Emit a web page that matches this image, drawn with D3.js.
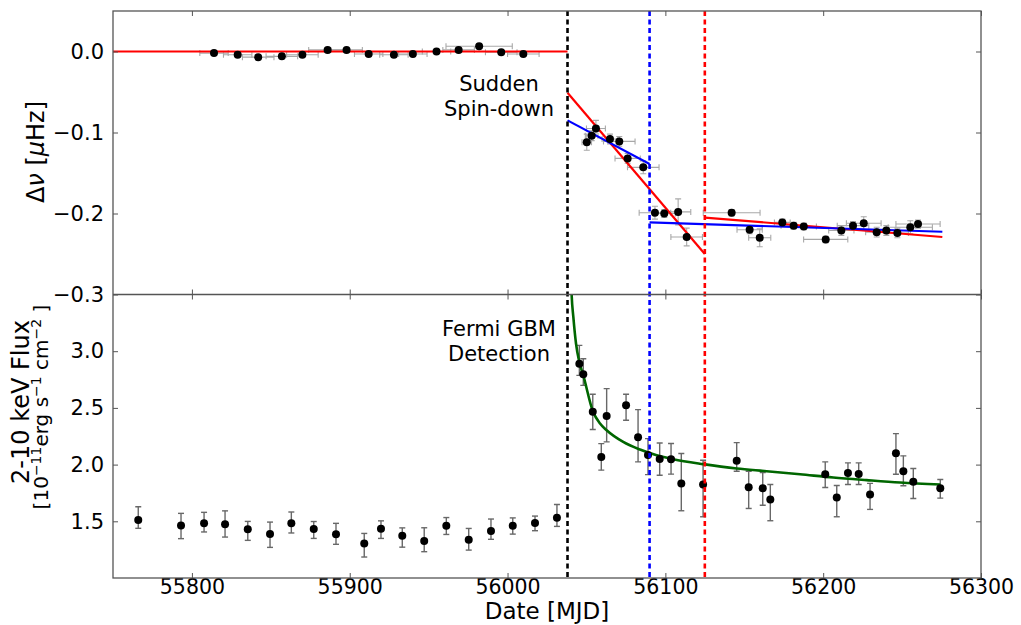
<!DOCTYPE html>
<html>
<head>
<meta charset="UTF-8" />
<title>Spin-down and flux</title>
<script src="https://cdn.jsdelivr.net/npm/d3@7"></script>
<style>
body {
	margin: 0;
	background: #fff;
}

svg text {
	font-family: "DejaVu Sans", sans-serif;
	fill: #000;
}
</style>
</head>
<body>
<svg id="chart" width="1021" height="625"></svg>
<script>
// ---- timing residuals (top panel) ----
var nuMjd = [55814, 55829, 55842, 55857, 55870, 55886, 55898, 55912, 55928, 55940, 55955, 55969, 55982, 55996, 56010,
             56050.2, 56053.3, 56056.0, 56064.9, 56070.8, 56076.1, 56086.0, 56093.4, 56099.3, 56108.1, 56113.5, 56142.0,
             56153.4, 56159.8, 56174.1, 56181.3, 56187.7, 56201.6, 56211.5, 56218.9, 56225.7, 56233.9, 56240.0, 56247.0, 56255.2, 56260.1];
var nuVal = [-0.002, -0.004, -0.007, -0.006, -0.004, 0.002, 0.002, -0.003, -0.004, -0.003, 0.000, 0.002, 0.0065, -0.001, -0.003,
             -0.112, -0.104, -0.095, -0.108, -0.111, -0.132, -0.143, -0.199, -0.200, -0.198, -0.229, -0.199,
             -0.220, -0.230, -0.211, -0.215, -0.216, -0.232, -0.221, -0.215, -0.212, -0.223, -0.221, -0.224, -0.217, -0.213];
var nuXerr = [9, 9, 10, 10, 10, 12, 10, 9, 9, 9, 9, 10, 21, 10, 10,
              3, 4, 6, 5, 10, 8, 10, 10, 7, 8, 10, 18,
              8, 7, 5, 8, 8, 14, 8, 10, 11, 7, 6, 7, 14, 14];
var nuYerr = [0.002, 0.002, 0.002, 0.002, 0.002, 0.002, 0.002, 0.002, 0.002, 0.002, 0.002, 0.002, 0.002, 0.002, 0.002,
              0.010, 0.006, 0.010, 0.006, 0.006, 0.006, 0.008, 0.008, 0.005, 0.016, 0.011, 0.004,
              0.005, 0.011, 0.004, 0.004, 0.004, 0.004, 0.006, 0.005, 0.008, 0.006, 0.006, 0.006, 0.008, 0.005];

// fitted timing models, one segment per entry
var redFitMjd = [[55750, 56038], [56038, 56125], [56125, 56275.5]];
var redFitVal = [[0, 0], [-0.051, -0.250], [-0.205, -0.229]];
var blueFitMjd = [[56038, 56090], [56090, 56275.5]];
var blueFitVal = [[-0.085, -0.139], [-0.211, -0.2225]];

// ---- 2-10 keV flux (bottom panel) ----
var fluxMjd = [55766.0, 55793.1, 55807.7, 55821.0, 55835.4, 55849.5, 55863.0, 55877.2, 55891.3, 55909.2, 55919.8, 55933.3, 55947.2, 55961.2, 55975.4, 55989.5, 56003.3, 56017.4, 56031.3,
               56045.5, 56048.0, 56054.0, 56059.4, 56062.8, 56075.1, 56082.7, 56089.0, 56096.4, 56103.6, 56110.1, 56123.9,
               56145.2, 56152.8, 56161.7, 56166.5, 56201.3, 56208.6, 56215.7, 56222.5, 56229.7, 56246.1, 56250.8, 56257.1, 56274.2];
var fluxVal = [1.511, 1.464, 1.482, 1.475, 1.429, 1.387, 1.482, 1.431, 1.385, 1.305, 1.434, 1.372, 1.326, 1.460, 1.337, 1.414, 1.460, 1.484, 1.531,
               2.890, 2.796, 2.467, 2.068, 2.429, 2.523, 2.241, 2.085, 2.050, 2.048, 1.834, 1.825,
               2.033, 1.801, 1.792, 1.693, 1.915, 1.710, 1.927, 1.918, 1.737, 2.100, 1.942, 1.848, 1.792];
var fluxErrHi = [0.117, 0.106, 0.097, 0.117, 0.070, 0.106, 0.100, 0.067, 0.097, 0.088, 0.070, 0.070, 0.117, 0.073, 0.100, 0.106, 0.070, 0.062, 0.117,
                 0.161, 0.138, 0.153, 0.117, 0.241, 0.097, 0.244, 0.144, 0.141, 0.138, 0.264, 0.214,
                 0.161, 0.141, 0.138, 0.132, 0.109, 0.106, 0.088, 0.097, 0.097, 0.173, 0.135, 0.117, 0.076];
var fluxErrLo = [0.073, 0.117, 0.076, 0.114, 0.097, 0.117, 0.085, 0.082, 0.088, 0.120, 0.085, 0.100, 0.094, 0.076, 0.091, 0.073, 0.073, 0.067, 0.076,
                 0.103, 0.097, 0.158, 0.117, 0.229, 0.132, 0.217, 0.173, 0.144, 0.132, 0.241, 0.285,
                 0.091, 0.188, 0.150, 0.188, 0.117, 0.170, 0.103, 0.094, 0.132, 0.185, 0.129, 0.147, 0.088];

// flux decay fit
var decayMjd = [56040.2, 56040.6, 56041.7, 56043.4, 56045.5, 56048.0, 56054.0, 56058.6, 56062.8, 56073.3, 56083.9, 56094.5, 56105.0, 56124.0,
                56145.2, 56164.2, 56185.3, 56206.4, 56227.5, 56248.7, 56274.2];
var decayVal = [3.65, 3.50, 3.30, 3.066, 2.904, 2.787, 2.473, 2.362, 2.303, 2.200, 2.133, 2.083, 2.048, 2.004,
                1.965, 1.942, 1.915, 1.886, 1.863, 1.842, 1.825];

// event epochs: GBM detection, and the two candidate break times
var eventMjd = [56038, 56090, 56125];
var eventColor = ['#000000', '#0000ff', '#ff0000'];

var xTicks = [55800, 55900, 56000, 56100, 56200, 56300];
var nuTicks = [0.0, -0.1, -0.2, -0.3];
var fluxTicks = [1.5, 2.0, 2.5, 3.0];

// ---- layout ----
var L = 113, R = 981, T = 11, M = 294.5, B = 578;

var svg = d3.select('#chart');

var x = d3.scaleLinear().domain([55750, 56300]).range([L, R]);
var yTop = d3.scaleLinear().domain([-0.3, 0.05]).range([M, T]);
var yBot = d3.scaleLinear().domain([1.0, 3.5]).range([B, M]);

var defs = svg.append('defs');
defs.append('clipPath').attr('id', 'clipTop')
    .append('rect').attr('x', L).attr('y', T).attr('width', R - L).attr('height', M - T);
defs.append('clipPath').attr('id', 'clipBot')
    .append('rect').attr('x', L).attr('y', M).attr('width', R - L).attr('height', B - M);

var nuData = nuMjd.map(function(m, i) {
    return {x: m, y: nuVal[i], xe: nuXerr[i], lo: nuYerr[i], hi: nuYerr[i]};
});
var fluxData = fluxMjd.map(function(m, i) {
    return {x: m, y: fluxVal[i], xe: 0, lo: fluxErrLo[i], hi: fluxErrHi[i]};
});

function drawErrors(g, data, ys, color, width) {
    var eb = g.append('g')
        .attr('stroke', color)
        .attr('stroke-width', width)
        .attr('fill', 'none');
    var cap = 3;
    data.forEach(function(d) {
        var cx = x(d.x), cy = ys(d.y);
        if (d.xe) {
            var x0 = x(d.x - d.xe), x1 = x(d.x + d.xe);
            eb.append('line').attr('x1', x0).attr('x2', x1).attr('y1', cy).attr('y2', cy);
            eb.append('line').attr('x1', x0).attr('x2', x0).attr('y1', cy - cap).attr('y2', cy + cap);
            eb.append('line').attr('x1', x1).attr('x2', x1).attr('y1', cy - cap).attr('y2', cy + cap);
        }
        var y0 = ys(d.y - d.lo), y1 = ys(d.y + d.hi);
        eb.append('line').attr('x1', cx).attr('x2', cx).attr('y1', y0).attr('y2', y1);
        eb.append('line').attr('x1', cx - cap).attr('x2', cx + cap).attr('y1', y0).attr('y2', y0);
        eb.append('line').attr('x1', cx - cap).attr('x2', cx + cap).attr('y1', y1).attr('y2', y1);
    });
}

function drawDots(g, data, ys) {
    g.append('g').selectAll('circle')
        .data(data)
        .enter()
        .append('circle')
        .attr('cx', function(d) { return x(d.x); })
        .attr('cy', function(d) { return ys(d.y); })
        .attr('r', 4)
        .attr('fill', '#000');
}

// ---- top panel ----
var topPanel = svg.append('g').attr('clip-path', 'url(#clipTop)');
drawErrors(topPanel, nuData, yTop, '#a8a8a8', 1.1);

var segLine = d3.line()
    .x(function(d) { return x(d[0]); })
    .y(function(d) { return yTop(d[1]); });

redFitMjd.forEach(function(seg, i) {
    topPanel.append('path')
        .datum(d3.zip(seg, redFitVal[i]))
        .attr('d', segLine)
        .attr('fill', 'none')
        .attr('stroke', '#ff0000')
        .attr('stroke-width', 2.2);
});
blueFitMjd.forEach(function(seg, i) {
    topPanel.append('path')
        .datum(d3.zip(seg, blueFitVal[i]))
        .attr('d', segLine)
        .attr('fill', 'none')
        .attr('stroke', '#0000ff')
        .attr('stroke-width', 2.2);
});

// ---- bottom panel ----
var botPanel = svg.append('g').attr('clip-path', 'url(#clipBot)');
drawErrors(botPanel, fluxData, yBot, '#686868', 1.4);

var decayLine = d3.line()
    .x(function(d) { return x(d[0]); })
    .y(function(d) { return yBot(d[1]); })
    .curve(d3.curveMonotoneX);

botPanel.append('path')
    .datum(d3.zip(decayMjd, decayVal))
    .attr('d', decayLine)
    .attr('fill', 'none')
    .attr('stroke', '#006600')
    .attr('stroke-width', 2.6);

// event lines across both panels
svg.append('g').selectAll('line')
    .data(eventMjd)
    .enter()
    .append('line')
    .attr('x1', function(d) { return x(d); })
    .attr('x2', function(d) { return x(d); })
    .attr('y1', T)
    .attr('y2', B)
    .attr('stroke', function(d, i) { return eventColor[i]; })
    .attr('stroke-width', 2.6)
    .attr('stroke-dasharray', '5,3.5');

drawDots(topPanel, nuData, yTop);
drawDots(botPanel, fluxData, yBot);

// ---- axes (matplotlib style: ticks inward on all sides) ----
var tickLen = 5;
var frameColor = '#555';

function styleAxis(g) {
    g.select('.domain').remove();
    g.selectAll('.tick line').attr('stroke', frameColor).attr('stroke-width', 1);
    g.selectAll('.tick text').style('font-size', '21px').attr('fill', '#000');
}

svg.append('g')
    .attr('transform', 'translate(' + L + ',0)')
    .call(d3.axisLeft(yTop).tickValues(nuTicks).tickFormat(d3.format('.1f'))
        .tickSize(-tickLen).tickPadding(9))
    .call(styleAxis);
svg.append('g')
    .attr('transform', 'translate(' + R + ',0)')
    .call(d3.axisRight(yTop).tickValues(nuTicks).tickFormat('').tickSize(-tickLen))
    .call(styleAxis);
svg.append('g')
    .attr('transform', 'translate(' + L + ',0)')
    .call(d3.axisLeft(yBot).tickValues(fluxTicks).tickFormat(d3.format('.1f'))
        .tickSize(-tickLen).tickPadding(9))
    .call(styleAxis);
svg.append('g')
    .attr('transform', 'translate(' + R + ',0)')
    .call(d3.axisRight(yBot).tickValues(fluxTicks).tickFormat('').tickSize(-tickLen))
    .call(styleAxis);

svg.append('g')
    .attr('transform', 'translate(0,' + T + ')')
    .call(d3.axisTop(x).tickValues(xTicks).tickFormat('').tickSize(-tickLen))
    .call(styleAxis);
svg.append('g')
    .attr('transform', 'translate(0,' + M + ')')
    .call(d3.axisBottom(x).tickValues(xTicks).tickFormat('').tickSize(-tickLen))
    .call(styleAxis);
svg.append('g')
    .attr('transform', 'translate(0,' + M + ')')
    .call(d3.axisTop(x).tickValues(xTicks).tickFormat('').tickSize(-tickLen))
    .call(styleAxis);
var xAxisG = svg.append('g')
    .attr('transform', 'translate(0,' + B + ')')
    .call(d3.axisBottom(x).tickValues(xTicks).tickFormat(d3.format('d'))
        .tickSize(-tickLen).tickPadding(1))
    .call(styleAxis);
xAxisG.selectAll('.tick text').style('font-size', '20.5px');

// frames
svg.append('rect')
    .attr('x', L).attr('y', T)
    .attr('width', R - L).attr('height', B - T)
    .attr('fill', 'none')
    .attr('stroke', frameColor)
    .attr('stroke-width', 1.3);
svg.append('line')
    .attr('x1', L).attr('x2', R)
    .attr('y1', M).attr('y2', M)
    .attr('stroke', frameColor)
    .attr('stroke-width', 1.3);

// ---- labels ----
svg.append('text')
    .attr('x', (L + R) / 2)
    .attr('y', 619)
    .attr('text-anchor', 'middle')
    .style('font-size', '23px')
    .text('Date [MJD]');

var yl1 = svg.append('text')
    .attr('transform', 'translate(44,152) rotate(-90)')
    .attr('text-anchor', 'middle')
    .style('font-size', '24px');
yl1.append('tspan').text('\u0394');
yl1.append('tspan').style('font-style', 'italic').text('\u03bd');
yl1.append('tspan').text(' [');
yl1.append('tspan').style('font-style', 'italic').text('\u03bc');
yl1.append('tspan').text('Hz]');

// two-line flux label, kept in one text block
var yl2 = svg.append('text')
    .attr('transform', 'translate(0,404) rotate(-90)')
    .attr('text-anchor', 'middle');
yl2.append('tspan')
    .attr('x', 2).attr('y', 28.5)
    .style('font-size', '24px')
    .text('2-10 keV Flux');
var l2 = yl2.append('tspan')
    .attr('x', -3).attr('y', 48)
    .style('font-size', '20px');
l2.append('tspan').text('[10');
l2.append('tspan').attr('dy', -7).style('font-size', '14px').text('\u221211');
l2.append('tspan').attr('dy', 7).text('erg s');
l2.append('tspan').attr('dy', -7).style('font-size', '14px').text('\u22121');
l2.append('tspan').attr('dy', 7).text(' cm');
l2.append('tspan').attr('dy', -7).style('font-size', '14px').text('\u22122');
l2.append('tspan').attr('dy', 7).text(' ]');

// annotations
var notes = [
    {lines: ['Sudden', 'Spin-down'], y: 90.5},
    {lines: ['Fermi GBM', 'Detection'], y: 336}
];
notes.forEach(function(n) {
    n.lines.forEach(function(s, i) {
        svg.append('text')
            .attr('x', 499)
            .attr('y', n.y + i * 25)
            .attr('text-anchor', 'middle')
            .style('font-size', '21px')
            .text(s);
    });
});
</script>
</body>
</html>
